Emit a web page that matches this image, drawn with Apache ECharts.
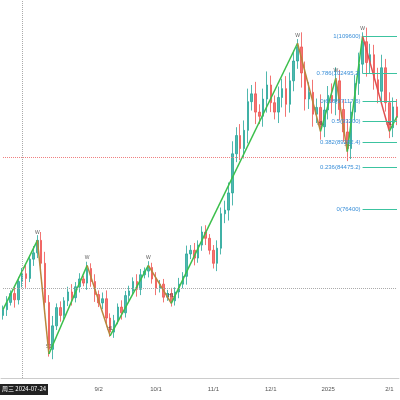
<!DOCTYPE html>
<html><head><meta charset="utf-8">
<script src="https://cdn.jsdelivr.net/npm/echarts@6/dist/echarts.min.js"></script>
<style>html,body{margin:0;padding:0;background:#fff}#chart{width:400px;height:400px}</style>
</head><body><div id="chart"></div>
<script>
// 2-day candles from 2024-07-14, prices in thousands
var closes = [57.1, 58.5, 60.2, 59.0, 62.5, 64.0, 63.1, 66.8, 68.0, 70.4,
    66.0, 58.5, 49.5,
    54.0, 57.5, 56.0, 58.8, 60.5, 59.4, 61.5, 63.0, 62.2, 65.0,
    62.5, 60.0, 58.4, 59.2, 55.5, 52.8,
    55.0, 57.6, 56.5, 59.8, 60.7, 62.5, 61.0, 63.8, 64.5, 65.2,
    63.0, 61.2, 62.0, 59.5, 60.2, 58.8,
    60.5, 62.0, 63.5, 67.8, 68.5, 67.0, 69.5, 72.0, 70.8, 68.5, 66.0, 68.9, 75.5, 76.2, 79.5, 87.0,
    90.5, 88.0, 91.5, 97.0, 98.5, 95.0, 94.2, 97.5, 100.2, 96.8, 95.0, 97.8, 99.5, 96.5, 101.0, 104.8, 107.5,
    102.5, 97.5, 98.8, 94.6, 95.9, 92.2,
    95.4, 98.2, 97.0, 101.0,
    95.5, 91.2, 88.0,
    95.0, 100.5, 104.2, 108.5,
    104.5, 106.0, 101.2, 99.0, 103.5, 96.8, 92.0,
    96.0, 94.0];
var wicks = [0.8, 1.2, 0.6, 1.5, 0.9, 1.1, 1.8, 0.7, 1.3, 1.0,
    1.6, 2.2, 1.4, 1.9, 0.8, 1.2, 0.7, 1.0, 1.5, 0.9, 1.1, 0.6, 1.3,
    1.0, 1.4, 0.8, 1.2, 1.6, 0.9, 1.1, 0.7, 1.3, 0.9, 1.0, 0.8, 1.4, 1.1, 0.7, 1.2,
    0.9, 1.3, 0.8, 1.0, 0.7, 1.1, 0.9, 1.2, 0.8, 1.6, 1.0, 1.4, 0.9, 1.1, 1.3, 0.8,
    1.0, 1.5, 1.2, 1.8, 2.0, 2.4, 1.6, 2.2, 1.9, 2.5, 1.7, 2.3, 1.5, 2.0, 2.6, 1.8,
    1.4, 2.1, 1.9, 2.4, 1.6, 2.0, 1.5, 2.8, 2.2, 1.9, 2.4, 1.7, 2.5, 2.0, 1.8, 2.3,
    2.6, 2.1, 1.9, 2.4, 2.0, 1.6, 2.2, 1.8, 2.7, 2.1, 1.9, 2.3, 2.5, 1.7, 2.0, 1.8, 1.5];
var pivotIdx = [0, 9, 12, 22, 28, 38, 44, 77, 83, 87, 90, 94, 101, 103];
var pivotVal = [57.1, 70.4, 48.6, 65.6, 52.1, 65.6, 58.3, 108.2, 91.3, 101.5, 87.4, 109.6, 91.3, 94.2];
var pivotTag = ['', 'W', 'S1', 'W', 'HL', 'W', 'HL', 'W', 'HL', 'W', 'S1', 'W', 'HL', ''];
var fibRatio = ['1', '0.786', '0.618', '0.5', '0.382', '0.236', '0'];
var fibPrice = [109600, 102495.2, 97117.6, 93200, 89282.4, 84475.2, 76400];
var tickIdx = [25, 40, 55, 70, 85, 101];
var tickText = ['9/2', '10/1', '11/1', '12/1', '2025', '2/1'];

var start = new Date(2024, 6, 14);
var dates = closes.map(function (c, i) {
    var d = new Date(start.getTime() + i * 2 * 86400000);
    return d.getFullYear() + '-' + (d.getMonth() + 1) + '-' + d.getDate();
});
var ohlc = closes.map(function (c, i) {
    var o = i === 0 ? 56.0 : closes[i - 1];
    return [o, c, Math.min(o, c) - wicks[i], Math.max(o, c) + wicks[i]];
});

var series = [{
    type: 'candlestick',
    data: ohlc,
    barWidth: 2,
    itemStyle: { color: '#26a69a', color0: '#ef5350', borderColor: '#26a69a', borderColor0: '#ef5350', borderWidth: 1, opacity: 0.8 },
    markLine: {
        symbol: 'none', silent: true,
        data: fibPrice.map(function (p, i) {
            return [{ coord: [94, p / 1000], label: { formatter: fibRatio[i] + '(' + p + ')' } }, { coord: [103, p / 1000] }];
        }).concat([
            [{ coord: [0, 86.4], lineStyle: { color: '#f08080', type: 'dotted', width: 1 }, label: { show: false } }, { coord: [103, 86.4] }],
            [{ coord: [0, 61.3], lineStyle: { color: '#aaa', type: 'dotted' }, label: { show: false } }, { coord: [103, 61.3] }],
            [{ coord: [5, 44], lineStyle: { color: '#aaa', type: 'dotted' }, label: { show: false } }, { coord: [5, 116.5] }]
        ]),
        lineStyle: { color: '#3cc3a0', type: 'solid', width: 1 },
        label: { position: 'start', color: '#3a8fd8', fontSize: 6, distance: 2 }
    }
}];
for (var k = 0; k < pivotIdx.length - 1; k++) {
    var up = pivotVal[k + 1] > pivotVal[k];
    series.push({
        type: 'line', symbol: 'none', silent: true,
        data: [[pivotIdx[k], pivotVal[k]], [pivotIdx[k + 1], pivotVal[k + 1]]],
        lineStyle: { width: 1.5, color: up ? '#3cbf4c' : (k === 11 ? '#e05050' : '#b8863c') }
    });
}
series.push({
    type: 'scatter', symbolSize: 0, silent: true,
    data: pivotIdx.map(function (x, i) { return [x, pivotVal[i]]; }),
    label: {
        show: true, fontSize: 5, color: '#333',
        formatter: function (p) { return pivotTag[p.dataIndex]; },
        position: 'top'
    }
});

var myChart = echarts.init(document.getElementById('chart'));
myChart.setOption({
    backgroundColor: '#fff',
    animation: false,
    grid: { left: 0, right: 0, top: 0, bottom: 22 },
    xAxis: {
        type: 'category', data: dates, boundaryGap: true,
        axisLine: { lineStyle: { color: '#ccc' } },
        axisTick: { show: false },
        axisLabel: {
            interval: 0, fontSize: 6, color: '#555',
            formatter: function (v, i) { var j = tickIdx.indexOf(i); return j < 0 ? '' : tickText[j]; }
        }
    },
    yAxis: { type: 'value', min: 44, max: 116.5, show: false, splitLine: { show: false } },
    graphic: [
        { type: 'rect', left: 0, top: 384, shape: { width: 48, height: 11 }, style: { fill: '#222' } },
        { type: 'text', left: 2, top: 386, style: { text: '周三 2024-07-24', fill: '#fff', fontSize: 6, fontFamily: 'Noto Sans CJK SC' } }
    ],
    series: series
});
window.addEventListener('resize', function () { myChart.resize(); });
</script>
</body></html>
